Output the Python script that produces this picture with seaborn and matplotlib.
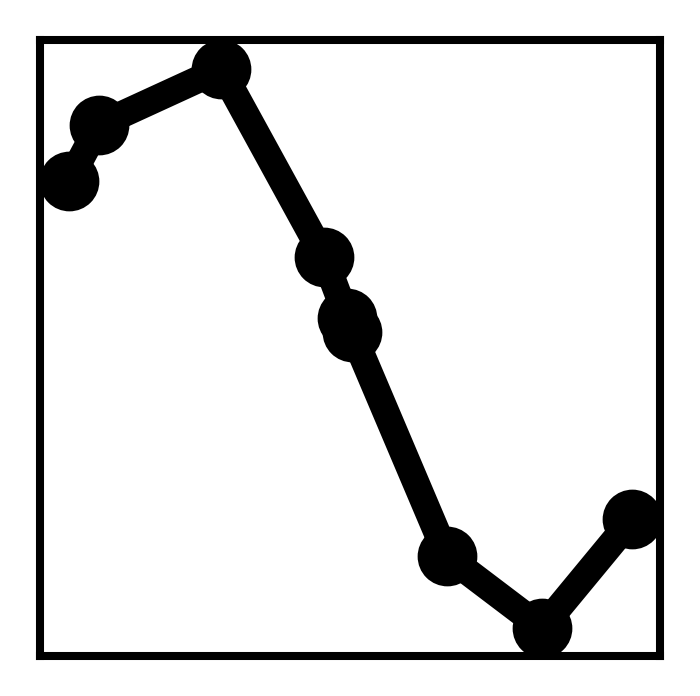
import matplotlib
matplotlib.use("Agg")
import matplotlib.pyplot as plt
import seaborn as sns
import pandas as pd

# values (arbitrary units, axes span 0..620 x 0..616)
x_vals = [29, 59, 181, 284, 307, 312, 407, 502, 592]
y_vals = [475, 531, 587, 399, 338, 324, 100, 28, 137]

df = pd.DataFrame({"x": x_vals, "y": y_vals})

sns.set_style("white")
fig = plt.figure(figsize=(7, 6.96), dpi=100)
ax = fig.add_axes([40 / 700, (696 - 656) / 696, 620 / 700, 616.5 / 696])

sns.lineplot(data=df, x="x", y="y", sort=False, color="black", linewidth=19.5,
             marker="o", markersize=43, markeredgewidth=0, ax=ax)

ax.set_xlim(0, 620)
ax.set_ylim(0, 616.5)
ax.set_xticks([])
ax.set_yticks([])
ax.set_xlabel("")
ax.set_ylabel("")
for s in ax.spines.values():
    s.set_linewidth(5.8)
    s.set_color("black")
    s.set_zorder(5)

fig.savefig("out.png", dpi=100)
